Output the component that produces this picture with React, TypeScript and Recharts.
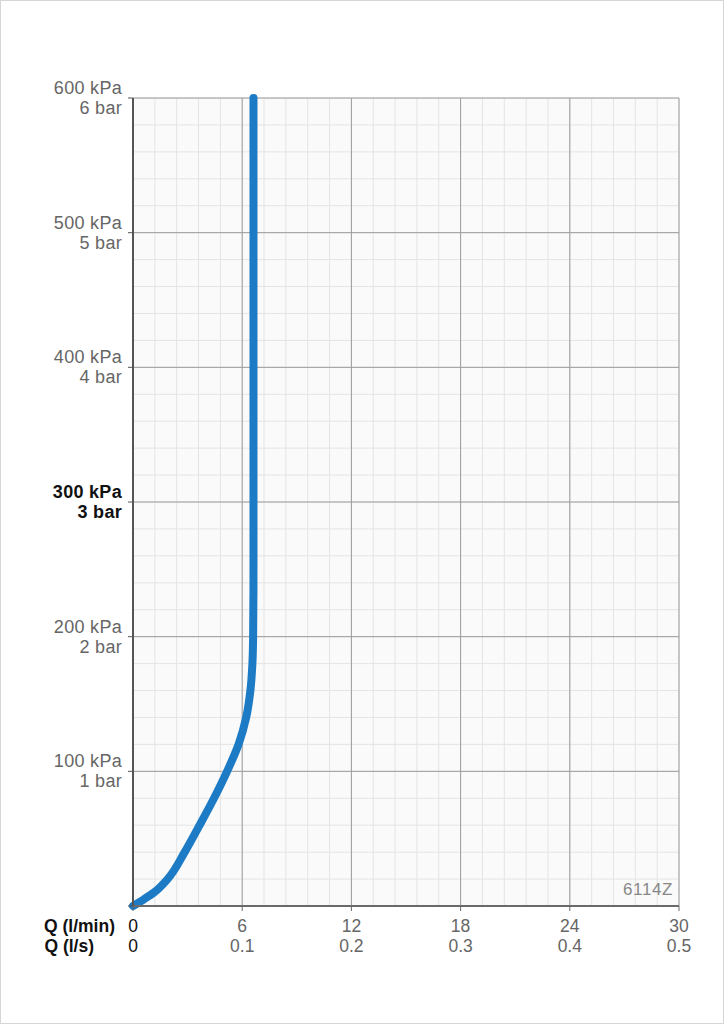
import React from 'react';
import { LineChart, Line, XAxis, YAxis, CartesianGrid } from 'recharts';

// flow (l/min), paired with pressure (kPa)
const pressureKpa = [0, 5, 10, 20, 40, 60, 80, 100, 120, 140, 160, 180, 200, 250, 600];
const flowLmin = [0, 0.6, 1.15, 1.9, 2.84, 3.66, 4.45, 5.17, 5.8, 6.22, 6.45, 6.56, 6.6, 6.62, 6.62];

const flowTicks = [0, 6, 12, 18, 24, 30];
const flowLsLabels = ['0', '0.1', '0.2', '0.3', '0.4', '0.5'];
const pressureTicks = [0, 100, 200, 300, 400, 500, 600];
const kpaLabels = ['', '100 kPa', '200 kPa', '300 kPa', '400 kPa', '500 kPa', '600 kPa'];
const barLabels = ['', '1 bar', '2 bar', '3 bar', '4 bar', '5 bar', '6 bar'];

const minorFlow = Array.from({ length: 26 }, (_, i) => i * 1.2);
const minorPressure = Array.from({ length: 31 }, (_, i) => i * 20);

const data = pressureKpa.map((p, i) => ({ p, q: flowLmin[i] }));

const FONT = '"Liberation Sans", Arial, sans-serif';

const XTick = (props: any) => {
  const { x, y, payload, index } = props;
  const first = payload.value === 0;
  const fill = first ? '#111' : '#666';
  return (
    <g fontFamily={FONT} fontSize={17.5}>
      {first && (
        <>
          <text x={x - 18} y={y + 19} textAnchor="end" fontWeight="bold" fill="#111">Q (l/min)</text>
          <text x={x - 39} y={y + 39} textAnchor="end" fontWeight="bold" fill="#111">Q (l/s)</text>
        </>
      )}
      <text x={x} y={y + 19} textAnchor="middle" fill={fill}>{payload.value}</text>
      <text x={x} y={y + 39} textAnchor="middle" fill={fill}>{flowLsLabels[index]}</text>
    </g>
  );
};

const YTick = (props: any) => {
  const { x, y, payload } = props;
  const i = pressureTicks.indexOf(payload.value);
  if (i <= 0) return null;
  const bold = payload.value === 300;
  const fill = bold ? '#111' : '#666';
  return (
    <g fontFamily={FONT} fontSize={18} letterSpacing={0.3} fontWeight={bold ? 'bold' : 'normal'} fill={fill}>
      <text x={x - 4} y={y - 4} textAnchor="end">{kpaLabels[i]}</text>
      <text x={x - 4} y={y + 16} textAnchor="end">{barLabels[i]}</text>
    </g>
  );
};

export default function App() {
  return (
    <div style={{ position: 'absolute', left: 0, top: 0, width: 724, height: 1024, background: '#fff' }}>
      <LineChart
        layout="vertical"
        width={724}
        height={1024}
        data={data}
        margin={{ top: 98, right: 45, bottom: 58, left: 0 }}
      >
        <CartesianGrid
          stroke="#e4e4e4"
          fill="#fafafa"
          verticalValues={minorFlow}
          horizontalValues={minorPressure}
        />
        <CartesianGrid stroke="#9c9c9c" verticalValues={flowTicks} horizontalValues={pressureTicks} />
        <XAxis
          type="number"
          domain={[0, 30]}
          ticks={flowTicks}
          height={60}
          tickSize={5}
          tickMargin={2}
          stroke="#6a6a6a"
          axisLine={{ stroke: '#6a6a6a', strokeWidth: 2 }}
          tickLine={{ stroke: '#6a6a6a' }}
          tick={<XTick />}
          interval={0}
        />
        <YAxis
          type="number"
          dataKey="p"
          domain={[0, 600]}
          ticks={pressureTicks}
          reversed
          width={133}
          tickSize={5}
          tickMargin={2}
          axisLine={{ stroke: '#555', strokeWidth: 2 }}
          tickLine={{ stroke: '#555' }}
          tick={<YTick />}
          interval={0}
        />
        <Line
          type="monotone"
          dataKey="q"
          stroke="#1c7bc4"
          strokeWidth={8}
          strokeLinecap="round"
          dot={false}
          isAnimationActive={false}
        />
      </LineChart>
      <div
        style={{
          position: 'absolute', right: 51, top: 880, fontFamily: FONT, fontSize: 17,
          color: '#888', letterSpacing: 0.6, lineHeight: '20px',
        }}
      >
        6114Z
      </div>
      <div style={{ position: 'absolute', inset: 0, border: '1px solid #d6d6d6', pointerEvents: 'none' }} />
    </div>
  );
}
